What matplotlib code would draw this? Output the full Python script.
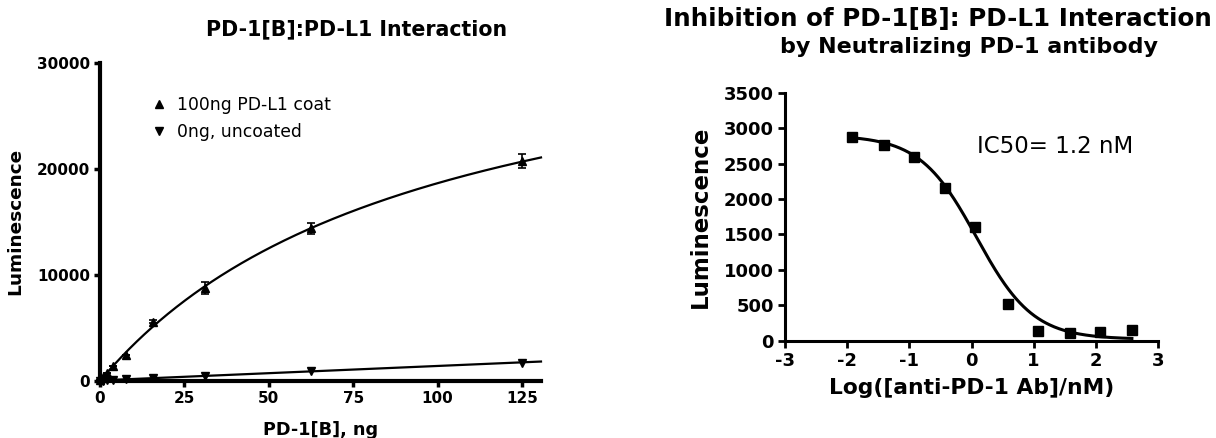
import matplotlib
matplotlib.use("Agg")
import matplotlib.pyplot as plt
import numpy as np

# --- left panel: binding curve ---
pd1_ng = [0, 0.98, 1.95, 3.9, 7.8, 15.6, 31.25, 62.5, 125]
coat_lum = [100, 400, 720, 1440, 2450, 5580, 8750, 14400, 20700]
coat_err = [0, 0, 0, 0, 0, 150, 580, 540, 650]
uncoat_lum = [20, 40, 60, 100, 190, 310, 500, 970, 1720]

# --- right panel: inhibition curve ---
log_ab = [-1.92, -1.41, -0.93, -0.42, 0.05, 0.59, 1.07, 1.59, 2.06, 2.58]
inhib_lum = [2879, 2761, 2587, 2159, 1609, 517, 139, 115, 130, 151]
# fit parameters
fit_top = 2900
fit_bottom = 20
fit_log_ic50 = 0.08
fit_hill = 0.95

plt.rcParams["font.family"] = "DejaVu Sans"
plt.rcParams["font.weight"] = "bold"
plt.rcParams["axes.labelweight"] = "bold"
plt.rcParams["axes.unicode_minus"] = False

fig = plt.figure(figsize=(12.16, 4.38), dpi=100)

# ---------- left ----------
ax1 = fig.add_axes([0.0822, 0.1301, 0.3627, 0.7267])
x = np.array(pd1_ng)
y = np.array(coat_lum)

# one site binding fit: Bmax*x/(Kd+x), grid over Kd
best = None
for kd in np.linspace(10, 400, 2000):
    f = x / (kd + x)
    bmax = np.sum(f * y) / np.sum(f * f)
    sse = np.sum((bmax * f - y) ** 2)
    if best is None or sse < best[0]:
        best = (sse, kd, bmax)
_, kd, bmax = best
xx = np.linspace(0, 130.6, 300)
ax1.plot(xx, bmax * xx / (kd + xx), color="black", lw=1.6, clip_on=False)

slope, icpt = np.polyfit(x, np.array(uncoat_lum), 1)
ax1.plot(xx, slope * xx + icpt, color="black", lw=1.6, clip_on=False)

eb = ax1.errorbar(pd1_ng, coat_lum, yerr=coat_err, fmt="^", color="black",
                  ms=6, capsize=3, elinewidth=1.2, capthick=1.2, clip_on=False)
unc, = ax1.plot(pd1_ng, uncoat_lum, "v", color="black", ms=6, clip_on=False)

ax1.set_xlim(0, 130.6)
ax1.set_ylim(0, 30000)
ax1.set_xticks([0, 25, 50, 75, 100, 125])
ax1.set_yticks([0, 10000, 20000, 30000])
for s in ["top", "right"]:
    ax1.spines[s].set_visible(False)
for s in ["left", "bottom"]:
    ax1.spines[s].set_linewidth(3)
ax1.tick_params(direction="out", length=4, width=2.5, labelsize=11, pad=3)
ax1.set_xlabel("PD-1[B], ng", fontsize=12.7, labelpad=11)
ax1.set_ylabel("Luminescence", fontsize=13.3, labelpad=9)
ax1.text(0.582, 1.087, "PD-1[B]:PD-L1 Interaction", transform=ax1.transAxes,
         ha="center", va="baseline", fontsize=14.8)

ax1.legend([eb[0], unc], ["100ng PD-L1 coat", "0ng, uncoated"],
           loc="upper left", bbox_to_anchor=(0.08, 0.945), frameon=False,
           handlelength=1.0, handletextpad=0.5, labelspacing=0.55,
           prop={"weight": "normal", "size": 12.4})

# ---------- right ----------
ax2 = fig.add_axes([0.6456, 0.2221, 0.3067, 0.5662])
xs = np.linspace(min(log_ab), max(log_ab), 300)
ys = fit_bottom + (fit_top - fit_bottom) / (1 + 10 ** ((xs - fit_log_ic50) * fit_hill))
ax2.plot(xs, ys, color="black", lw=2.2)
ax2.plot(log_ab, inhib_lum, "s", color="black", ms=7.5, clip_on=False)

ax2.set_xlim(-3, 3)
ax2.set_ylim(0, 3500)
ax2.set_xticks(range(-3, 4))
ax2.set_yticks(range(0, 3501, 500))
for s in ["top", "right"]:
    ax2.spines[s].set_visible(False)
for s in ["left", "bottom"]:
    ax2.spines[s].set_linewidth(2.2)
ax2.tick_params(direction="out", length=5, width=2, labelsize=13, pad=3)
ax2.set_xlabel("Log([anti-PD-1 Ab]/nM)", fontsize=15.7, labelpad=6)
ax2.set_ylabel("Luminescence", fontsize=16.5, labelpad=9)
ax2.text(0.09, 2740, "IC50= 1.2 nM", fontsize=16.5, fontweight="normal",
         ha="left", va="center")

fig.text(937.5 / 1216, 1 - 26 / 438, "Inhibition of PD-1[B]: PD-L1 Interaction",
         ha="center", va="baseline", fontsize=17.7)
fig.text(968.6 / 1216, 1 - 53 / 438, "by Neutralizing PD-1 antibody",
         ha="center", va="baseline", fontsize=16)

fig.savefig("out.png", dpi=100)
